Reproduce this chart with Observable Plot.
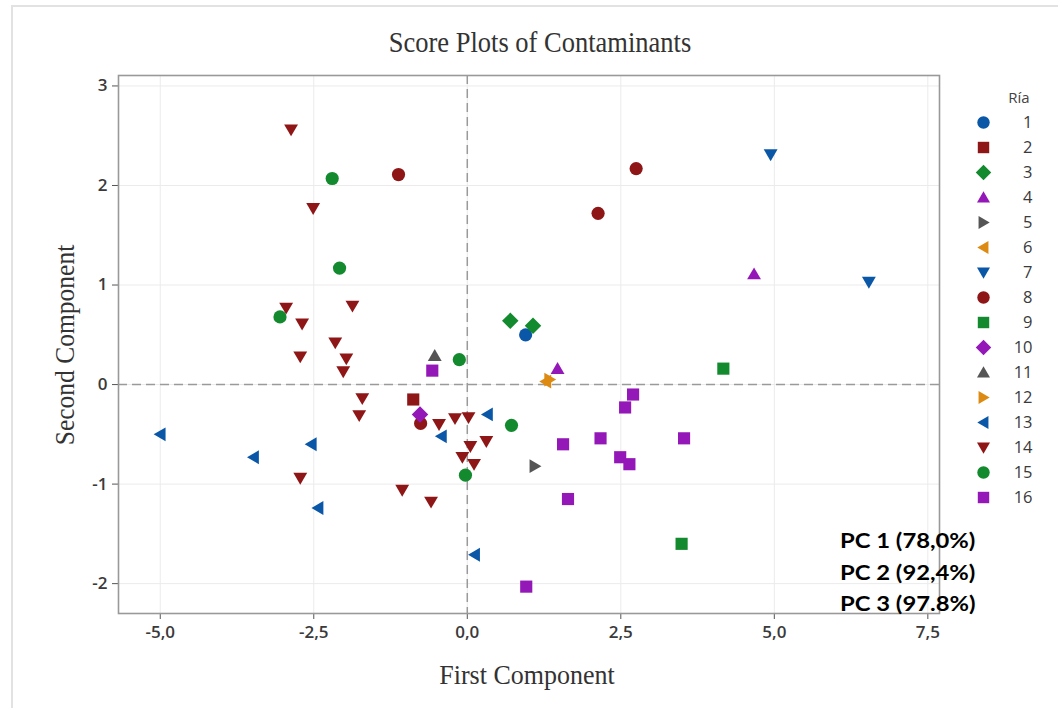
<!DOCTYPE html>
<html>
<head>
<meta charset="utf-8">
<script src="https://cdn.jsdelivr.net/npm/d3@7"></script>
<script src="https://cdn.jsdelivr.net/npm/@observablehq/plot@0.6"></script>
<style>
  body { margin: 0; background: #fff; }
  #wrap { position: relative; width: 1058px; height: 708px; overflow: hidden; background: #fff; }
  #border { position: absolute; left: 11px; top: 5px; width: 1060px; height: 720px; border: 2px solid #e2e2e2; box-sizing: border-box; }
  #main { position: absolute; left: 0; top: 0; }
  #main text { font-size: 17px; font-weight: 600; fill: #3a3a3a; }
  #legend { position: absolute; left: 960px; top: 100px; }
  #legend text { font-size: 16.5px; fill: #3a3a3a; }
  .lbl { position: absolute; white-space: nowrap; color: #333; font-family: "Liberation Serif", "DejaVu Serif", serif; }
  #title { left: 540px; top: 43px; font-size: 26.5px; transform: translate(-50%, -50%) scaleY(1.1); }
  #xlab { left: 527px; top: 675px; font-size: 26px; transform: translate(-50%, -50%) scaleY(1.08); }
  #ylab { left: 65px; top: 345px; font-size: 25.5px; transform: translate(-50%, -50%) rotate(-90deg) scaleY(1.08); }
  #legtitle { position: absolute; left: 1019px; top: 97px; transform: translate(-50%, -50%); font-family: "Open Sans", sans-serif; font-size: 15px; color: #444; }
  .pc { position: absolute; left: 840px; font-family: Lato, "Open Sans", sans-serif; font-weight: bold; font-size: 20px; color: #000; transform-origin: 0 50%; transform: translateY(-50%) scaleX(1.19); white-space: nowrap; }
</style>
</head>
<body>
<div id="wrap">
  <div id="border"></div>
</div>
<script>
// ---- Data ----
const riaLabels = ["1","2","3","4","5","6","7","8","9","10","11","12","13","14","15","16"];
const riaColors = ["#0a57a8","#8e1616","#138a2e","#9418b8","#555555","#dd8a12","#0a57a8","#8e1616","#138a2e","#9418b8","#555555","#dd8a12","#0a57a8","#8e1616","#138a2e","#9418b8"];
const riaShapes = ["circle","square","diamond","up","right","left","down","circle","square","diamond","up","right","left","down","circle","square"];

const pointRia = [
  "1",
  "2",
  "3","3",
  "4","4",
  "5",
  "6",
  "7","7",
  "8","8","8","8",
  "9","9",
  "10",
  "11",
  "12",
  "13","13","13","13","13","13","13",
  "14","14","14","14","14","14","14","14","14","14","14","14","14","14","14","14","14","14","14","14","14",
  "15","15","15","15","15","15",
  "16","16","16","16","16","16","16","16","16","16"
];
const pc1 = [
  0.95,
  -0.88,
  0.70, 1.07,
  4.67, 1.47,
  1.10,
  1.28,
  4.94, 6.54,
  -1.12, 2.75, 2.13, -0.76,
  4.17, 3.49,
  -0.77,
  -0.53,
  1.34,
  -5.00, -3.48, -2.54, -2.43, -0.42, 0.33, 0.12,
  -2.87, -2.51, -2.95, -1.87, -2.69, -2.15, -2.72, -1.97, -2.02, -1.71, -1.76, -0.46, -0.20, 0.02, 0.31, 0.05, -0.08, 0.11, -2.72, -1.06, -0.59,
  -2.20, -2.08, -3.05, -0.13, 0.72, -0.03,
  -0.57, 2.70, 2.57, 1.56, 2.17, 3.53, 2.49, 2.64, 1.64, 0.96
];
const pc2 = [
  0.50,
  -0.15,
  0.64, 0.59,
  1.11, 0.16,
  -0.82,
  0.03,
  2.31, 1.03,
  2.11, 2.17, 1.72, -0.39,
  0.16, -1.60,
  -0.30,
  0.29,
  0.05,
  -0.50, -0.73, -0.60, -1.24, -0.52, -0.30, -1.71,
  2.56, 1.77, 0.77, 0.79, 0.61, 0.42, 0.28, 0.26, 0.13, -0.14, -0.31, -0.40, -0.34, -0.33, -0.57, -0.62, -0.73, -0.80, -0.94, -1.06, -1.18,
  2.07, 1.17, 0.68, 0.25, -0.41, -0.91,
  0.14, -0.10, -0.23, -0.60, -0.54, -0.54, -0.73, -0.80, -1.15, -2.03
];
const xTicks = [-5, -2.5, 0, 2.5, 5, 7.5];
const yTicks = [-2, -1, 0, 1, 2, 3];
const titleText = "Score Plots of Contaminants";
const xLabelText = "First Component";
const yLabelText = "Second Component";
const legendTitle = "Ría";
const pcNotes = ["PC 1 (78,0%)", "PC 2 (92,4%)", "PC 3 (97.8%)"];

// ---- Symbols ----
function poly(pts) {
  return {
    draw(ctx, size) {
      const r = Math.sqrt(size / Math.PI);
      ctx.moveTo(pts[0][0] * r, pts[0][1] * r);
      for (let i = 1; i < pts.length; ++i) ctx.lineTo(pts[i][0] * r, pts[i][1] * r);
      ctx.closePath();
    }
  };
}
const shapes = {
  circle: { draw(ctx, size) { const r = Math.sqrt(size / Math.PI); ctx.moveTo(r, 0); ctx.arc(0, 0, r, 0, 2 * Math.PI); } },
  square: poly([[-0.92,-0.92],[0.92,-0.92],[0.92,0.92],[-0.92,0.92]]),
  diamond: poly([[0,-1.25],[1.25,0],[0,1.25],[-1.25,0]]),
  up: poly([[0,-1.0],[1.05,0.8],[-1.05,0.8]]),
  down: poly([[-1.05,-0.8],[1.05,-0.8],[0,1.0]]),
  left: poly([[-1.0,0],[0.8,-1.05],[0.8,1.05]]),
  right: poly([[1.0,0],[-0.8,-1.05],[-0.8,1.05]])
};

const points = pointRia.map((r, i) => ({ria: r, pc1: pc1[i], pc2: pc2[i]}));
const fmtX = d => d3.format(".1f")(d).replace(".", ",").replace("\u2212", "-");
const fmtY = d => d3.format("d")(d).replace("\u2212", "-");

const scales = {
  color: { domain: riaLabels, range: riaColors },
  symbol: { domain: riaLabels, range: riaShapes.map(s => shapes[s]) }
};

const main = Plot.plot({
  width: 1058,
  height: 708,
  marginLeft: 118,
  marginRight: 119,
  marginTop: 75,
  marginBottom: 95,
  style: { background: "transparent", fontFamily: "'Open Sans', sans-serif", fontSize: "17px", color: "#333" },
  x: { domain: [-5.68, 7.69], label: null },
  y: { domain: [-2.30, 3.105], label: null },
  ...scales,
  marks: [
    Plot.gridX(xTicks, { stroke: "#ebebeb", strokeOpacity: 1, strokeWidth: 1 }),
    Plot.gridY(yTicks, { stroke: "#ebebeb", strokeOpacity: 1, strokeWidth: 1 }),
    Plot.ruleX([0], { stroke: "#9a9a9a", strokeWidth: 1.5, strokeDasharray: "9,5" }),
    Plot.ruleY([0], { stroke: "#9a9a9a", strokeWidth: 1.5, strokeDasharray: "9,5" }),
    Plot.axisX(xTicks, { tickFormat: fmtX, tickSize: 6, tickPadding: 6, fontSize: 17, color: "#555", label: null }),
    Plot.axisY(yTicks, { tickFormat: fmtY, tickSize: 6, tickPadding: 5, fontSize: 17, color: "#555", label: null }),
    Plot.frame({ stroke: "#999", strokeWidth: 1.6 }),
    Plot.dot(points, { x: "pc1", y: "pc2", fill: "ria", symbol: "ria", stroke: "none", r: 6.6 })
  ]
});
main.id = "main";

const legend = Plot.plot({
  width: 98,
  height: 420,
  margin: 0,
  style: { background: "transparent", fontFamily: "'Open Sans', sans-serif", fontSize: "16.5px" },
  x: { domain: [0, 1], range: [23, 72], axis: null },
  y: { type: "point", domain: riaLabels, range: [20, 398], padding: 0, axis: null },
  ...scales,
  marks: [
    Plot.dot(riaLabels, { x: () => 0, y: d => d, fill: d => d, symbol: d => d, stroke: "none", r: 6.2 }),
    Plot.text(riaLabels, { x: () => 1, y: d => d, text: d => d, textAnchor: "end", fontSize: 16.5, fill: "#3a3a3a" })
  ]
});
legend.id = "legend";

const wrap = document.getElementById("wrap");
wrap.appendChild(main);
wrap.appendChild(legend);

function addLabel(id, cls, text) {
  const d = document.createElement("div");
  d.id = id; d.className = cls; d.textContent = text;
  wrap.appendChild(d);
  return d;
}
addLabel("title", "lbl", titleText);
addLabel("xlab", "lbl", xLabelText);
addLabel("ylab", "lbl", yLabelText);
addLabel("legtitle", "", legendTitle);
const pcTops = [540, 572, 603];
pcNotes.forEach((t, i) => { const d = addLabel("pc" + i, "pc", t); d.style.top = pcTops[i] + "px"; });
</script>
</body>
</html>
